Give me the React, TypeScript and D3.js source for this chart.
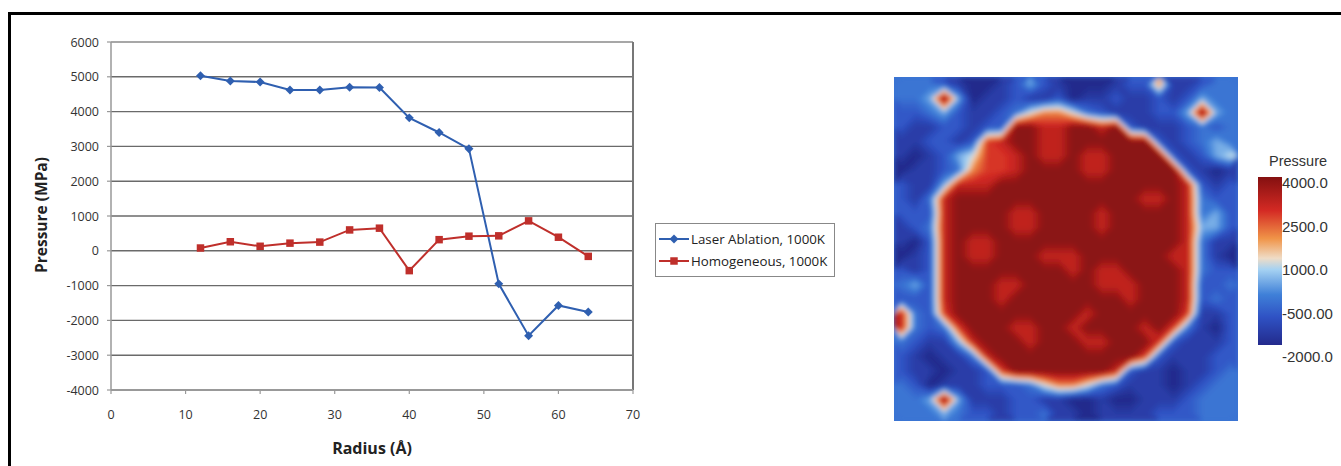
import React from "react";
import * as d3 from "d3";

// line chart data
const radius = [12, 16, 20, 24, 28, 32, 36, 40, 44, 48, 52, 56, 60, 64];
const laserAblation = [5030, 4880, 4850, 4620, 4620, 4700, 4690, 3820, 3400, 2930, -950, -2440, -1570, -1760];
const homogeneous = [80, 260, 130, 220, 250, 600, 650, -570, 320, 420, 430, 860, 390, -160];
const seriesNames = ["Laser Ablation, 1000K", "Homogeneous, 1000K"];
const xTicks = [0, 10, 20, 30, 40, 50, 60, 70];
const yTicks = [-4000, -3000, -2000, -1000, 0, 1000, 2000, 3000, 4000, 5000, 6000];

// pressure map: each digit is an index into pressureLevels
const pressureLevels = [-2000, -1500, -900, -400, 300, 1000, 2000, 2700, 3100, 4000];
const pressureGrid = [
  "333210012421000122611233",
  "334940112112011211212433",
  "223421123566532111224943",
  "211221229988998921112323",
  "112212789988999999212343",
  "101245778988988999921245",
  "011236778999988999992101",
  "211488899999999999998212",
  "213899999999999998898322",
  "222899998899998999998342",
  "123899998899998999998442",
  "102898899999999999998311",
  "012898899988899999988310",
  "212899999999898899998322",
  "342899988999998889998223",
  "222899989999999989998232",
  "832799999999989999997112",
  "832379998899899998973102",
  "321148999899988999721112",
  "210113899999999997211122",
  "211011279999999821101123",
  "320111222356653211101233",
  "334941112211001001112333",
  "333432212231101111222333",
];
const colorbarTicks = [4000, 2500, 1000, -500, -2000];
const colorbarLabels = ["4000.0", "2500.0", "1000.0", "-500.00", "-2000.0"];
const colorStops = [-2000, -1000, -200, 700, 1100, 1800, 2800, 4000];
const colorRange = ["#232a8c", "#2f52c4", "#3f80d8", "#a6d2f2", "#efdcc6", "#f09448", "#d42a24", "#841010"];

const FONT = "'Open Sans', Lato, sans-serif";
const CB_FONT = "'Liberation Sans', Arial, sans-serif";

export default function App() {
  const x = d3.scaleLinear().domain([0, 70]).range([111, 633]);
  const y = d3.scaleLinear().domain([-4000, 6000]).range([390, 42]);

  const line = d3
    .line<number>()
    .x((_, i) => x(radius[i]))
    .y((d) => y(d));

  const diamond = d3.symbol(d3.symbolSquare, 40)()!;
  const square = d3.symbol(d3.symbolSquare, 56)()!;

  // heat map
  const n = pressureGrid.length;
  const mapX = 894,
    mapY = 77,
    mapSize = 344;
  const cell = mapSize / n;
  const values = pressureGrid.flatMap((row) => row.split("").map((c) => pressureLevels[+c]));
  const color = d3.scaleLinear<string>().domain(colorStops).range(colorRange).clamp(true);
  const contours = d3
    .contours()
    .size([n, n])
    .thresholds(d3.range(-2000, 4000, 100))(values);
  const path = d3.geoPath(d3.geoIdentity().scale(cell));

  const cbTop = 177,
    cbH = 168;
  const cbLabel = d3.scaleLinear().domain([-2000, 4000]).range([357, 183]);

  const blue = "#2f5fb0";
  const red = "#bf2f2b";

  return (
    <svg width={1341} height={466} style={{ position: "absolute", left: 0, top: 0, background: "#fff" }}>
      <defs>
        <clipPath id="mapClip">
          <rect x={mapX} y={mapY} width={mapSize} height={mapSize} />
        </clipPath>
        <filter id="soft" x="-5%" y="-5%" width="110%" height="110%">
          <feGaussianBlur stdDeviation={2.6} />
        </filter>
        <linearGradient id="cbGrad" x1="0" y1="1" x2="0" y2="0">
          {colorStops.map((v, i) => (
            <stop key={i} offset={(v + 2000) / 6000} stopColor={colorRange[i]} />
          ))}
        </linearGradient>
      </defs>

      {/* frame */}
      <rect x={9.5} y={13.5} width={1400} height={500} fill="none" stroke="#000" strokeWidth={3} />

      {/* grid lines */}
      {yTicks.map((t) => (
        <line key={t} x1={x(0)} x2={x(70)} y1={y(t)} y2={y(t)} stroke={t === 6000 ? "#8a8a8a" : "#6a6a6a"} strokeWidth={1.4} />
      ))}
      <line x1={x(70)} x2={x(70)} y1={y(6000)} y2={y(-4000)} stroke="#777" strokeWidth={2} />
      <line x1={x(0)} x2={x(0)} y1={y(6000)} y2={y(-4000)} stroke="#999" strokeWidth={1.5} />
      <line x1={x(0)} x2={x(70)} y1={y(-4000)} y2={y(-4000)} stroke="#999" strokeWidth={2} />
      {yTicks.map((t) => (
        <line key={"yt" + t} x1={x(0) - 4} x2={x(0)} y1={y(t)} y2={y(t)} stroke="#999" strokeWidth={1.2} />
      ))}
      {xTicks.map((t) => (
        <line key={"xt" + t} x1={x(t)} x2={x(t)} y1={y(-4000)} y2={y(-4000) + 4} stroke="#999" strokeWidth={1.2} />
      ))}

      {/* tick labels */}
      {yTicks.map((t) => (
        <text key={"yl" + t} x={99} y={y(t) + 4.5} textAnchor="end" fontFamily={FONT} fontSize={12.5} fill="#333">
          {t}
        </text>
      ))}
      {xTicks.map((t) => (
        <text key={"xl" + t} x={x(t)} y={419} textAnchor="middle" fontFamily={FONT} fontSize={12.5} fill="#333">
          {t}
        </text>
      ))}
      <text x={372} y={454} textAnchor="middle" fontFamily={FONT} fontSize={16} fontWeight="bold" fill="#222">
        Radius (Å)
      </text>
      <text transform="translate(47,215) rotate(-90)" textAnchor="middle" fontFamily={FONT} fontSize={15.5} fontWeight="bold" fill="#222">
        Pressure (MPa)
      </text>

      {/* series */}
      <path d={line(laserAblation)!} fill="none" stroke={blue} strokeWidth={2} />
      <path d={line(homogeneous)!} fill="none" stroke={red} strokeWidth={2} />
      {laserAblation.map((v, i) => (
        <path key={"la" + i} d={diamond} transform={`translate(${x(radius[i])},${y(v)}) rotate(45)`} fill={blue} />
      ))}
      {homogeneous.map((v, i) => (
        <path key={"ho" + i} d={square} transform={`translate(${x(radius[i])},${y(v)})`} fill={red} />
      ))}

      {/* legend */}
      <rect x={655.5} y={223.5} width={179} height={53} fill="#fff" stroke="#888" strokeWidth={1} />
      {seriesNames.map((name, i) => {
        const ly = 239 + i * 22;
        const c = i === 0 ? blue : red;
        return (
          <g key={name}>
            <line x1={659} x2={689} y1={ly} y2={ly} stroke={c} strokeWidth={2} />
            <path d={i === 0 ? diamond : square} transform={`translate(674,${ly})${i === 0 ? " rotate(45)" : ""}`} fill={c} />
            <text x={691} y={ly + 4.5} fontFamily={FONT} fontSize={13.3} fill="#222">
              {name}
            </text>
          </g>
        );
      })}

      {/* pressure map */}
      <g clipPath="url(#mapClip)">
        <rect x={mapX} y={mapY} width={mapSize} height={mapSize} fill={color(-400)} />
        <g transform={`translate(${mapX},${mapY})`} filter="url(#soft)">
          {contours.map((c, i) => (
            <path key={i} d={path(c)!} fill={color(c.value)} />
          ))}
        </g>
      </g>

      {/* colorbar */}
      <rect x={1258} y={cbTop} width={24} height={cbH} fill="url(#cbGrad)" />
      <text x={1269} y={166} fontFamily={CB_FONT} fontSize={14.5} fill="#333">
        Pressure
      </text>
      {colorbarTicks.map((t, i) => (
        <text key={t} x={1282} y={cbLabel(t) + 5} fontFamily={CB_FONT} fontSize={15} fill="#333">
          {colorbarLabels[i]}
        </text>
      ))}
    </svg>
  );
}
